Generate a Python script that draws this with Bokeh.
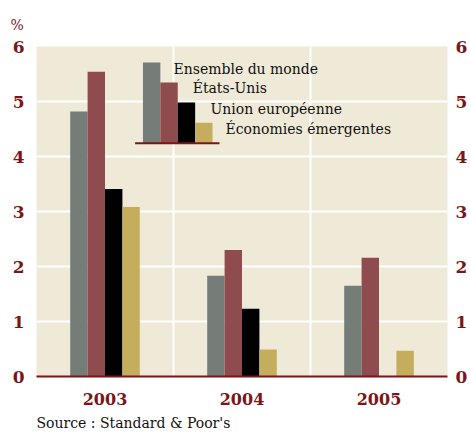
import math
from bokeh.plotting import figure
from bokeh.models import (ColumnDataSource, Range1d, LinearAxis, FixedTicker, Grid, Title)
from bokeh.core.properties import value
from bokeh.embed import file_html
from bokeh.resources import INLINE

years = ["2003", "2004", "2005"]
series = ["Ensemble du monde", "États-Unis", "Union européenne", "Économies émergentes"]
monde = [4.82, 1.83, 1.65]
usa = [5.54, 2.30, 2.16]
ue = [3.41, 1.23, float("nan")]
emerg = [3.08, 0.49, 0.47]
y_ticks = [0, 1, 2, 3, 4, 5, 6]
source_text = "Source : Standard & Poor's"
unit_text = "%"

colors = ["#757d78", "#8e4c4f", "#000000", "#c4ae5e"]
dark_red = "#7b1518"
bg = "#efe9d7"
font = "DejaVu Serif"

p = figure(width=470, height=437, output_backend="svg", toolbar_location=None,
           x_range=Range1d(0, 3), y_range=Range1d(0, 6),
           min_border_left=36, min_border_right=21, min_border_top=45, min_border_bottom=61)
p.background_fill_color = bg
p.border_fill_color = "white"
p.outline_line_color = None

w = 0.127
all_vals = [monde, usa, ue, emerg]
for j, vals in enumerate(all_vals):
    xs = [i + 0.5 + (j - 1.5) * w for i in range(len(years))]
    src = ColumnDataSource(dict(x=xs, top=[0 if math.isnan(v) else v for v in vals]))
    p.vbar(x="x", top="top", bottom=0, width=w, source=src,
           fill_color=colors[j], line_color=None)

# legend as mini bar chart
leg_left = 0.777
leg_base = 4.24
leg_step = 0.365
leg_tops = [leg_base + leg_step * (4 - j) + 0.01 for j in range(4)]
leg_x = [leg_left + w * (j + 0.5) for j in range(4)]
p.vbar(x=leg_x, top=leg_tops, bottom=leg_base, width=w, fill_color=colors, line_color=None)
p.line(x=[0.72, 1.336], y=[leg_base, leg_base], line_color=dark_red, line_width=2)
tx = [1.0, 1.14, 1.27, 1.38]
ty = [5.6, 5.24, 4.86, 4.5]
p.text(x=tx, y=ty, text=series, text_font=value(font), text_font_size="14px",
       text_color="#111111", text_baseline="middle", text_align="left")

# axes
def style_axis(ax, standoff, size):
    ax.major_tick_line_color = None
    ax.minor_tick_line_color = None
    ax.major_tick_out = 0
    ax.major_tick_in = 0
    ax.minor_tick_out = 0
    ax.minor_tick_in = 0
    ax.major_label_text_font = font
    ax.major_label_text_font_size = size
    ax.major_label_text_font_style = "bold"
    ax.major_label_text_color = dark_red
    ax.major_label_standoff = standoff

p.yaxis.ticker = FixedTicker(ticks=y_ticks)
p.yaxis.axis_line_color = None
style_axis(p.yaxis[0], 12, "17px")

ry = LinearAxis(ticker=FixedTicker(ticks=y_ticks))
ry.axis_line_color = None
style_axis(ry, 8, "17px")
p.add_layout(ry, "right")

p.xaxis.ticker = FixedTicker(ticks=[0.5, 1.5, 2.5])
p.xaxis.major_label_overrides = {0.5: years[0], 1.5: years[1], 2.5: years[2]}
p.xaxis.axis_line_color = dark_red
p.xaxis.axis_line_width = 2
style_axis(p.xaxis[0], 16, "16px")

p.ygrid.ticker = FixedTicker(ticks=[1, 2, 3, 4, 5])
p.ygrid.grid_line_color = "white"
p.ygrid.grid_line_width = 2
p.xgrid.visible = False
p.add_layout(Grid(dimension=0, ticker=FixedTicker(ticks=[1, 2]),
                  grid_line_color="white", grid_line_width=2))

p.title = Title(text=unit_text, align="left", offset=-26, standoff=28, text_font=font,
                text_font_size="14px", text_color=dark_red, text_font_style="normal")
p.add_layout(Title(text=source_text, align="left", text_font=font,
                   text_font_size="14px", text_color="#111111",
                   text_font_style="normal"), "below")

open("out.html", "w").write(file_html(p, INLINE))
